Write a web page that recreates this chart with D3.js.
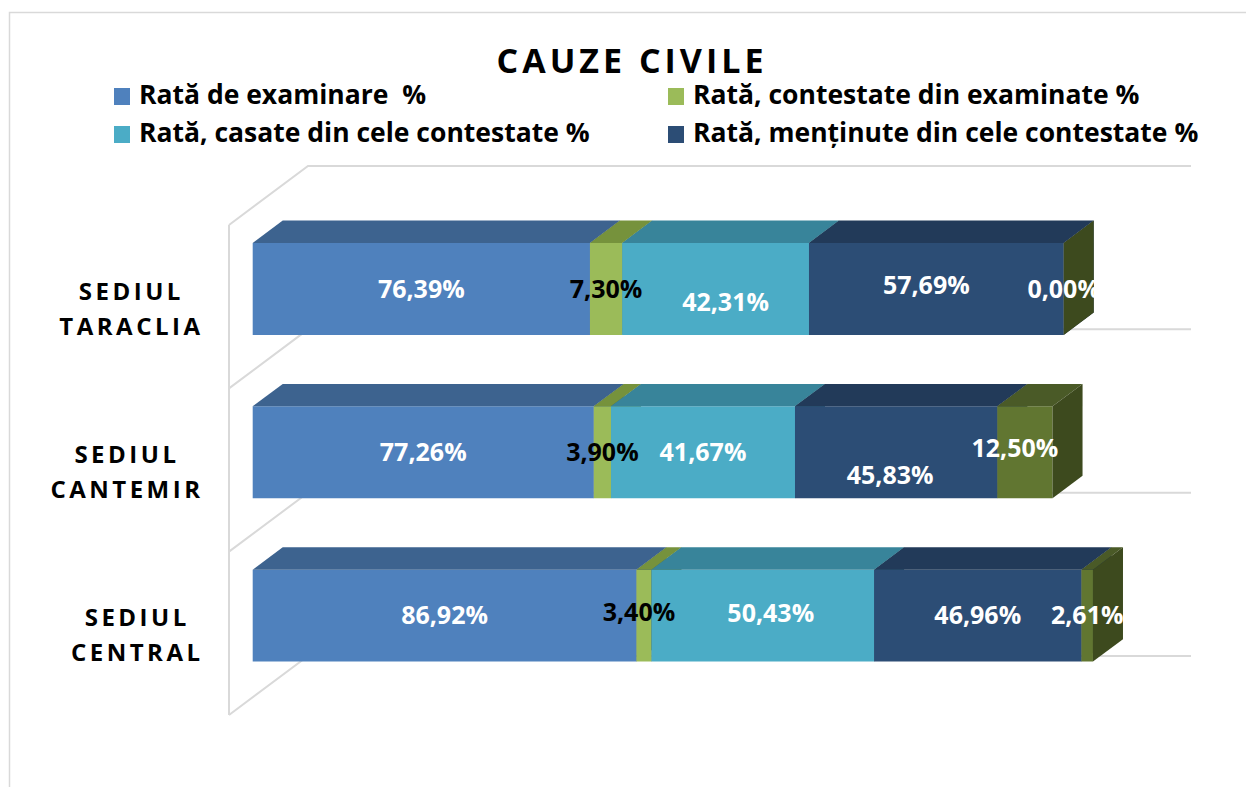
<!DOCTYPE html>
<html lang="ro">
<head>
<meta charset="UTF-8">
<title>Cauze civile</title>
<script src="https://d3js.org/d3.v7.min.js"></script>
<style>
  body { margin: 0; background: #fff; font-family: "Open Sans", sans-serif; }
  svg { display: block; }
  .title { font-weight: 700; font-size: 34px; letter-spacing: 4px; text-anchor: middle; fill: #000; }
  .legend text { font-weight: 700; font-size: 26.5px; white-space: pre; fill: #000; }
  .cat { font-weight: 700; font-size: 24px; letter-spacing: 3.5px; fill: #000; }
  .val { font-weight: 700; font-size: 25px; text-anchor: middle; }
</style>
</head>
<body>
<script>
// ---- data ----
const categories = ["SEDIUL TARACLIA", "SEDIUL CANTEMIR", "SEDIUL CENTRAL"];
const seriesNames = [
  "Rată de examinare  %",
  "Rată, contestate din examinate %",
  "Rată, casate din cele contestate %",
  "Rată, menținute din cele contestate %",
  "" // fifth series, not shown in the legend
];
const examinare  = [76.39, 77.26, 86.92];
const contestate = [7.30, 3.90, 3.40];
const casate     = [42.31, 41.67, 50.43];
const mentinute  = [57.69, 45.83, 46.96];
const altele     = [0.00, 12.50, 2.61];
const axisMax = 200;

// ---- styles ----
const W = 1246, H = 787;
const front = ["#4F81BD", "#9BBB59", "#4BACC6", "#2C4D75", "#617631"];
const top_  = ["#3D638F", "#76923C", "#38849A", "#223A59", "#4A5A27"];
const side  = ["#35577F", "#6A8535", "#327587", "#1D3350", "#3D4A1E"];
const labelFill = ["#fff", "#000", "#fff", "#fff", "#fff"];
// small label nudges seen in the original 3D rendering
const nudge = { "0-2": [10, 13], "0-3": [-10, -4], "1-3": [-6, 23], "1-4": [-10, -4], "2-2": [8, -2], "2-1": [-5, -3] };

const seriesValues = [examinare, contestate, casate, mentinute, altele];
const rows = categories.map((c, i) => {
  const r = { cat: c };
  seriesValues.forEach((s, k) => r["s" + k] = s[i]);
  return r;
});
const keys = seriesValues.map((_, k) => "s" + k);
const stacked = d3.stack().keys(keys)(rows);

// 3D projection: front plane + depth vector
const DX = 79, DY = 59;
const x = d3.scaleLinear().domain([0, axisMax]).range([229, 229 + 883]);
const y = d3.scaleBand().domain(categories).range([225, 715])
  .paddingInner(0.437).paddingOuter(0.2185);
const dFront = 0.30, dBack = 0.68;
const P = (v, yy, d) => [x(v) + d * DX, yy - d * DY];

const svg = d3.select("body").append("svg").attr("width", W).attr("height", H);

// chart border
svg.append("rect").attr("x", 9.5).attr("y", 12.5).attr("width", W + 20).attr("height", H + 20)
  .attr("fill", "none").attr("stroke", "#D9D9D9").attr("stroke-width", 1.5);

// title
svg.append("text").attr("class", "title").attr("x", 632).attr("y", 73).text("CAUZE CIVILE");

// legend
const legendItems = seriesNames.map((n, k) => ({ n, k })).filter(d => d.n);
const leg = svg.append("g").attr("class", "legend")
  .selectAll("g").data(legendItems).join("g")
  .attr("transform", (d, i) => `translate(${i % 2 ? 668 : 114},${i < 2 ? 104 : 142})`);
leg.append("rect").attr("x", 0).attr("y", -16).attr("width", 16).attr("height", 17)
  .attr("fill", d => front[d.k]);
leg.append("text").attr("x", 25).attr("y", 0).text(d => d.n);

// walls / gridlines
const grid = svg.append("g").attr("stroke", "#D9D9D9").attr("stroke-width", 2).attr("fill", "none");
const bounds = d3.range(categories.length + 1).map(i => 225 + i * y.step());
bounds.forEach(b => {
  const a = P(0, b, 0), c = P(0, b, 1), e = P(axisMax, b, 1);
  grid.append("path").attr("d", `M${a}L${c}L${e}`);
});
grid.append("line").attr("x1", x(0)).attr("x2", x(0)).attr("y1", bounds[0]).attr("y2", bounds[bounds.length - 1]);

// bars
const bars = svg.append("g");
categories.forEach((c, i) => {
  const y0 = y(c), y1 = y(c) + y.bandwidth(); // on the front plane
  stacked.forEach((s, k) => {
    const v0 = s[i][0], v1 = s[i][1];
    const fTL = P(v0, y0, dFront), fTR = P(v1, y0, dFront), fBR = P(v1, y1, dFront), fBL = P(v0, y1, dFront);
    const bTL = P(v0, y0, dBack), bTR = P(v1, y0, dBack), bBR = P(v1, y1, dBack);
    if (v1 > v0) {
      bars.append("path").attr("d", `M${fTL}L${fTR}L${fBR}L${fBL}Z`).attr("fill", front[k]);
      bars.append("path").attr("d", `M${fTL}L${bTL}L${bTR}L${fTR}Z`).attr("fill", top_[k]);
    }
    bars.append("path").attr("d", `M${fTR}L${bTR}L${bBR}L${fBR}Z`).attr("fill", side[k]);
  });
});

// value labels
const fmt = v => d3.format(".2f")(v).replace(".", ",") + "%";
const labels = svg.append("g");
categories.forEach((c, i) => {
  stacked.forEach((s, k) => {
    const v0 = s[i][0], v1 = s[i][1];
    const p = P((v0 + v1) / 2, y(c) + y.bandwidth() / 2, dFront);
    const n = nudge[i + "-" + k] || [0, 0];
    labels.append("text").attr("class", "val")
      .attr("x", p[0] + n[0]).attr("y", p[1] + n[1]).attr("dy", "0.35em")
      .attr("fill", labelFill[k]).text(fmt(seriesValues[k][i]));
  });
});

// category labels (two lines, block right-aligned, lines centred)
const catG = svg.append("g");
categories.forEach(c => {
  const lines = [c.slice(0, c.indexOf(" ")), c.slice(c.indexOf(" ") + 1)];
  const cy = (y(c) - y.step() * y.paddingInner() / 2) + y.step() / 2;
  const g = catG.append("g");
  const ts = lines.map((l, j) => g.append("text").attr("class", "cat")
    .attr("y", cy + (j === 0 ? -7 : 28)).text(l));
  const ws = ts.map(t => t.node().getComputedTextLength() - 3.5);
  const wMax = d3.max(ws);
  ts.forEach((t, j) => t.attr("x", 200 - wMax + (wMax - ws[j]) / 2));
});
</script>
</body>
</html>
